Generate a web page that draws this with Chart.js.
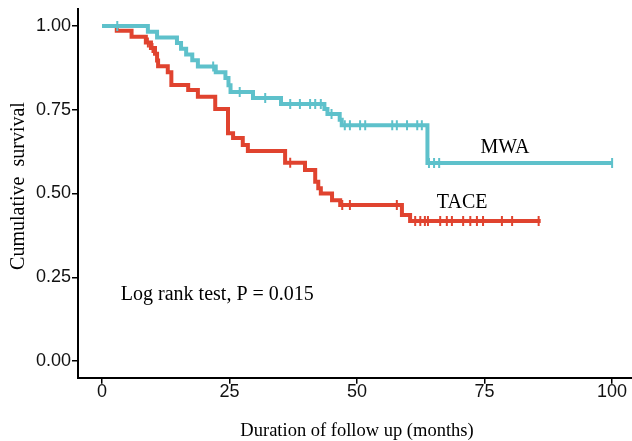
<!DOCTYPE html>
<html><head><meta charset="utf-8">
<script src="https://cdn.jsdelivr.net/npm/chart.js@4.4.1/dist/chart.umd.min.js"></script>
<style>html,body{margin:0;padding:0;background:#fff;overflow:hidden}canvas{display:block}</style>
</head><body>
<canvas id="c" width="632" height="441"></canvas>
<script>
// ---- data ----
const mwaTimes = [0, 9.0, 10.8, 14.7, 15.5, 16.5, 17.7, 18.8, 22.3, 24.2, 24.8, 25.2, 29.6, 35.1, 43.6, 44.2, 46.6, 47.0, 63.8, 100];
const mwaSurv  = [1.0, 0.983, 0.966, 0.949, 0.932, 0.915, 0.898, 0.879, 0.862, 0.845, 0.823, 0.803, 0.785, 0.767, 0.752, 0.737, 0.72, 0.704, 0.591, 0.591];
const mwaCensor = [3.0, 21.8, 27.0, 32.0, 36.9, 38.8, 40.8, 41.8, 42.9, 45.0, 47.6, 48.6, 50.6, 51.6, 56.9, 57.8, 59.8, 61.8, 62.7, 64.1, 65.1, 66.1, 100];

const taceTimes = [0, 2.9, 5.8, 8.6, 9.6, 10.4, 10.8, 11.0, 12.9, 13.6, 16.9, 18.8, 22.2, 24.7, 25.7, 27.6, 28.6, 35.9, 39.8, 41.8, 42.4, 42.9, 45.1, 46.7, 58.8, 60.4, 86.0];
const taceSurv  = [1.0, 0.986, 0.968, 0.951, 0.934, 0.917, 0.897, 0.880, 0.862, 0.824, 0.809, 0.789, 0.752, 0.680, 0.666, 0.645, 0.627, 0.592, 0.570, 0.535, 0.516, 0.500, 0.480, 0.466, 0.436, 0.418, 0.418];
const taceCensor = [9.0, 9.9, 36.9, 47.1, 48.6, 57.8, 61.4, 62.4, 63.3, 63.9, 66.3, 67.6, 68.6, 70.8, 72.2, 73.5, 74.7, 78.4, 80.4, 85.6];

const xTicks = [0, 25, 50, 75, 100];
const yTicks = [0, 0.25, 0.5, 0.75, 1.0];
const yTickLabels = ['0.00', '0.25', '0.50', '0.75', '1.00'];
const groupNames = ['MWA', 'TACE'];
const testText = 'Log rank test, P = 0.015';
const xTitle = 'Duration of follow up (months)';
const yTitle = 'Cumulative  survival';

// ---- build ----
const teal = '#5EC1CB';
const red = '#E0432F';
const serif = "'Liberation Serif', 'Times New Roman', serif";
const sans = "'Liberation Sans', Arial, sans-serif";

function steps(t, s) { return t.map((x, i) => ({x: x, y: s[i]})); }
function survAt(t, s, x) { let v = s[0]; for (let i = 0; i < t.length; i++) { if (t[i] <= x) v = s[i]; } return v; }
function censorPts(c, t, s) { return c.map(x => ({x: x, y: survAt(t, s, x)})); }

const labelPlugin = {
  id: 'labels',
  afterDatasetsDraw(chart) {
    const {ctx, scales: {x, y}} = chart;
    ctx.save();
    ctx.fillStyle = '#000';
    ctx.font = '20px ' + serif;
    ctx.textBaseline = 'middle';
    ctx.textAlign = 'center';
    ctx.fillText(groupNames[0], x.getPixelForValue(79), y.getPixelForValue(0.636));
    ctx.fillText(groupNames[1], x.getPixelForValue(70.6), y.getPixelForValue(0.472));
    ctx.textAlign = 'left';
    ctx.fillText(testText, x.getPixelForValue(3.7), y.getPixelForValue(0.197));
    // axis titles
    ctx.font = '18.5px ' + serif;
    ctx.textAlign = 'center';
    ctx.fillText(xTitle, 357, 431);
    ctx.translate(19, 186);
    ctx.rotate(-Math.PI / 2);
    ctx.font = '20px ' + serif;
    ctx.fillText(yTitle, 0, 0);
    ctx.restore();
  }
};

new Chart(document.getElementById('c'), {
  type: 'line',
  data: {
    datasets: [
      {label: 'MWA', data: steps(mwaTimes, mwaSurv), stepped: true, borderColor: teal, borderWidth: 4, pointRadius: 0, fill: false, order: 1},
      {label: 'MWA censor', type: 'scatter', data: censorPts(mwaCensor, mwaTimes, mwaSurv), pointStyle: 'line', rotation: 90, radius: 5, borderColor: teal, borderWidth: 2, order: 0},
      {label: 'TACE', data: steps(taceTimes, taceSurv), stepped: true, borderColor: red, borderWidth: 4, pointRadius: 0, fill: false, order: 3},
      {label: 'TACE censor', type: 'scatter', data: censorPts(taceCensor, taceTimes, taceSurv), pointStyle: 'line', rotation: 90, radius: 5, borderColor: red, borderWidth: 2, order: 2}
    ]
  },
  options: {
    responsive: false,
    animation: false,
    layout: {autoPadding: false, padding: {top: 9.25, right: 0, bottom: 0, left: 0}},
    plugins: {legend: {display: false}, tooltip: {enabled: false}},
    scales: {
      x: {
        type: 'linear', min: -4.7, max: 103.9,
        afterBuildTicks: s => { s.ticks = xTicks.map(v => ({value: v})); },
        afterFit: s => { s.height = 63.25; s.paddingLeft = 0; s.paddingRight = 0; },
        ticks: {color: '#111', font: {family: sans, size: 18}, padding: -3, callback: v => String(v), maxRotation: 0},
        grid: {drawOnChartArea: false, drawTicks: true, tickLength: 6, color: '#000', lineWidth: 1.5},
        border: {display: true, color: '#000', width: 2},
        title: {display: false}
      },
      y: {
        type: 'linear', min: -0.05, max: 1.05,
        afterBuildTicks: s => { s.ticks = yTicks.map(v => ({value: v})); },
        afterFit: s => { s.width = 78; s.paddingTop = 0; s.paddingBottom = 0; },
        ticks: {color: '#111', font: {family: sans, size: 18}, padding: 1, callback: v => yTickLabels[yTicks.indexOf(v)]},
        grid: {drawOnChartArea: false, drawTicks: true, tickLength: 6, color: '#000', lineWidth: 1.5},
        border: {display: true, color: '#000', width: 2},
        title: {display: false}
      }
    }
  },
  plugins: [labelPlugin]
});
</script>
</body></html>
